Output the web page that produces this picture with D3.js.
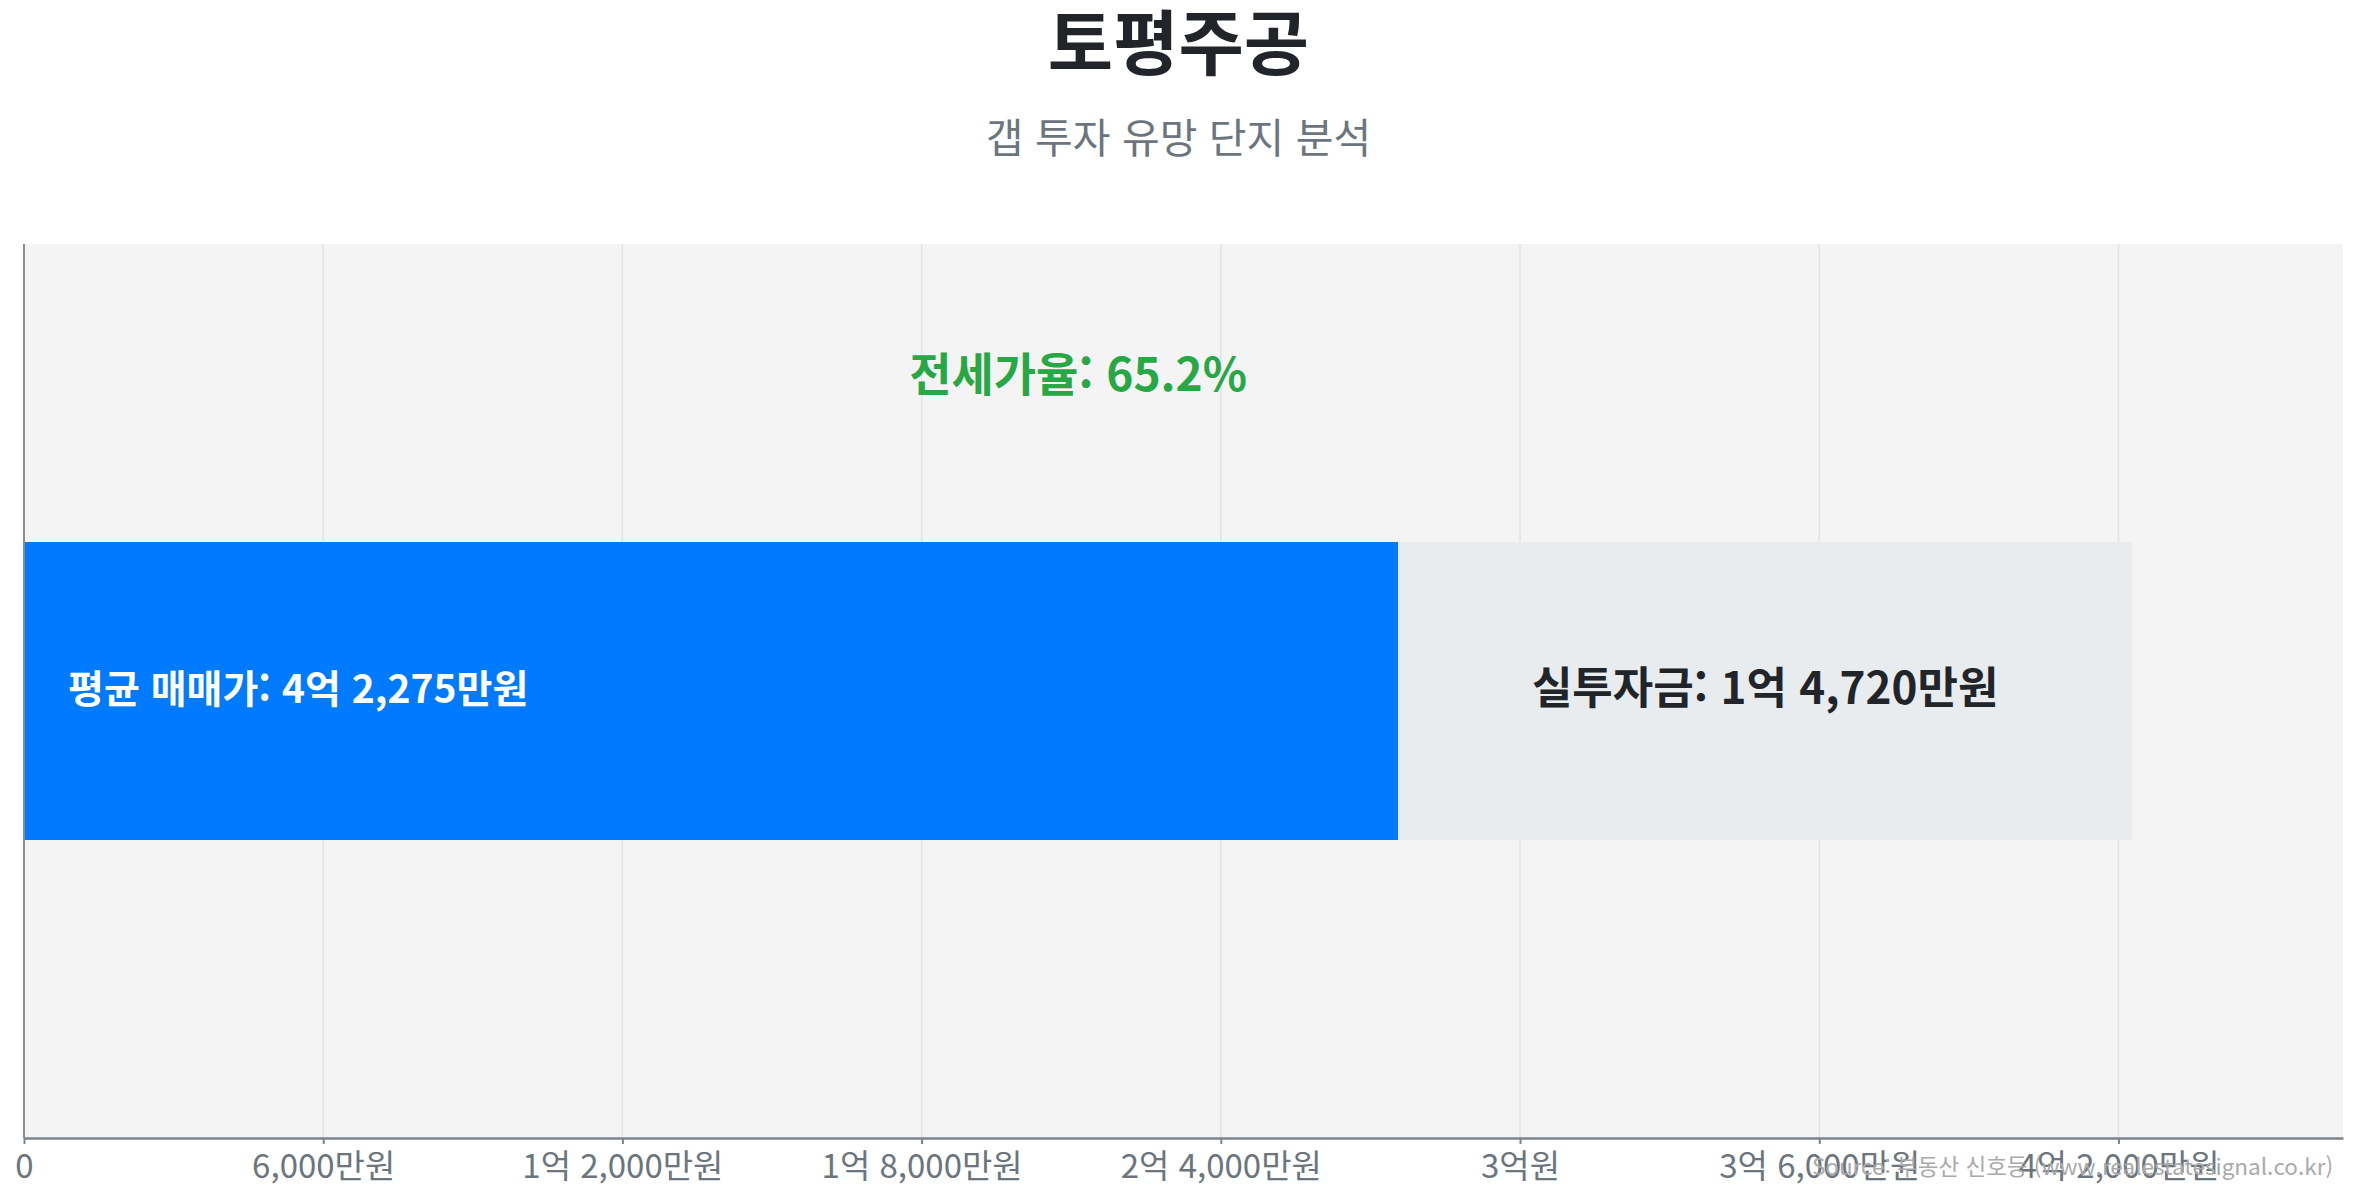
<!DOCTYPE html>
<html lang="ko">
<head>
<meta charset="utf-8">
<title>토평주공 갭 투자 분석</title>
<script src="https://cdn.jsdelivr.net/npm/d3@7"></script>
<style>
  body { margin: 0; background: #fff; }
  svg { display: block; font-family: "Noto Sans CJK KR", "Noto Sans", sans-serif; }
  .axis path, .axis line { stroke: #7d848b; }
  .axis text { fill: #6c757d; font-size: 33px; }
</style>
</head>
<body>
<svg id="chart"></svg>
<script>
// values in 만원
const complexNames = ['토평주공'];
const salePrices = [42275];
const jeonsePrices = [27555];
const gapAmounts = [14720];
const jeonseRatios = [65.2];
const tickValues = [0, 6000, 12000, 18000, 24000, 30000, 36000, 42000];
const tickLabels = ['0', '6,000만원', '1억 2,000만원', '1억 8,000만원', '2억 4,000만원', '3억원', '3억 6,000만원', '4억 2,000만원'];

// 만원 -> "4억 2,275만원"
function formatWon(v) {
  const eok = Math.floor(v / 10000);
  const man = v % 10000;
  if (eok && man) return `${eok}억 ${d3.format(',')(man)}만원`;
  if (eok) return `${eok}억원`;
  return `${d3.format(',')(man)}만원`;
}

class GapChart {
  constructor(_config) {
    this.config = {
      parentElement: _config.parentElement,
      containerWidth: _config.containerWidth || 2357,
      containerHeight: _config.containerHeight || 1200,
      margin: _config.margin || {top: 244, right: 14, bottom: 62, left: 24}
    };
    this.initVis();
  }

  initVis() {
    let vis = this;
    vis.width = vis.config.containerWidth - vis.config.margin.left - vis.config.margin.right;
    vis.height = vis.config.containerHeight - vis.config.margin.top - vis.config.margin.bottom;

    vis.svg = d3.select(vis.config.parentElement)
        .attr('width', vis.config.containerWidth)
        .attr('height', vis.config.containerHeight);

    // Titles
    vis.svg.append('text')
        .attr('x', vis.config.containerWidth / 2)
        .attr('y', 69)
        .attr('text-anchor', 'middle')
        .attr('font-size', 71)
        .attr('font-weight', 'bold')
        .attr('fill', '#212529')
        .text(complexNames[0]);

    vis.svg.append('text')
        .attr('x', vis.config.containerWidth / 2)
        .attr('y', 153)
        .attr('text-anchor', 'middle')
        .attr('font-size', 41)
        .attr('fill', '#6c757d')
        .text('갭 투자 유망 단지 분석');

    vis.chart = vis.svg.append('g')
        .attr('transform', `translate(${vis.config.margin.left},${vis.config.margin.top})`);

    vis.xScale = d3.scaleLinear()
        .domain([0, d3.max(salePrices) * 1.1])
        .range([0, vis.width]);

    vis.yScale = d3.scaleBand()
        .domain(complexNames)
        .range([0, vis.height])
        .padding(0.5);

    vis.chart.append('rect')
        .attr('width', vis.width)
        .attr('height', vis.height)
        .attr('fill', '#f4f4f4');

    // Vertical grid lines
    vis.chart.append('g')
        .selectAll('line')
        .data(tickValues.slice(1))
        .join('line')
        .attr('x1', d => vis.xScale(d))
        .attr('x2', d => vis.xScale(d))
        .attr('y1', 0)
        .attr('y2', vis.height)
        .attr('stroke', '#e4e4e4')
        .attr('stroke-width', 1.5);

    vis.xAxis = d3.axisBottom(vis.xScale)
        .tickValues(tickValues)
        .tickFormat((d, i) => tickLabels[i])
        .tickSize(6)
        .tickSizeOuter(0)
        .tickPadding(11);

    vis.renderVis();
  }

  renderVis() {
    let vis = this;
    const rows = complexNames.map((name, i) => ({
      name, sale: salePrices[i], jeonse: jeonsePrices[i], gap: gapAmounts[i], ratio: jeonseRatios[i]
    }));

    // 전세가 segment
    vis.chart.selectAll('.bar-jeonse')
        .data(rows)
        .join('rect')
        .attr('class', 'bar-jeonse')
        .attr('x', vis.xScale(0))
        .attr('y', d => vis.yScale(d.name))
        .attr('width', d => vis.xScale(d.jeonse) - vis.xScale(0))
        .attr('height', vis.yScale.bandwidth())
        .attr('fill', '#007bff');

    // 실투자금 segment
    vis.chart.selectAll('.bar-gap')
        .data(rows)
        .join('rect')
        .attr('class', 'bar-gap')
        .attr('x', d => vis.xScale(d.jeonse))
        .attr('y', d => vis.yScale(d.name))
        .attr('width', d => vis.xScale(d.jeonse + d.gap) - vis.xScale(d.jeonse))
        .attr('height', vis.yScale.bandwidth())
        .attr('fill', '#e9ecef');

    const mid = d => vis.yScale(d.name) + vis.yScale.bandwidth() / 2;

    vis.chart.selectAll('.label-sale')
        .data(rows)
        .join('text')
        .attr('class', 'label-sale')
        .attr('x', vis.xScale(0) + 44)
        .attr('y', mid)
        .attr('dy', '0.3em')
        .attr('font-size', 39)
        .attr('font-weight', 'bold')
        .attr('fill', '#fff')
        .text(d => `평균 매매가: ${formatWon(d.sale)}`);

    vis.chart.selectAll('.label-gap')
        .data(rows)
        .join('text')
        .attr('class', 'label-gap')
        .attr('x', d => (vis.xScale(d.jeonse) + vis.xScale(d.jeonse + d.gap)) / 2)
        .attr('y', mid)
        .attr('dy', '0.3em')
        .attr('text-anchor', 'middle')
        .attr('font-size', 44)
        .attr('font-weight', 'bold')
        .attr('fill', '#212529')
        .text(d => `실투자금: ${formatWon(d.gap)}`);

    vis.chart.selectAll('.label-ratio')
        .data(rows)
        .join('text')
        .attr('class', 'label-ratio')
        .attr('x', d => vis.xScale(d.sale) / 2)
        .attr('y', d => vis.yScale(d.name) - 151)
        .attr('text-anchor', 'middle')
        .attr('font-size', 46)
        .attr('font-weight', 'bold')
        .attr('fill', '#28a745')
        .text(d => `전세가율: ${d.ratio}%`);

    // Left axis line
    vis.chart.append('line')
        .attr('x1', 0).attr('x2', 0)
        .attr('y1', 0).attr('y2', vis.height)
        .attr('stroke', '#868e96')
        .attr('stroke-width', 2);

    vis.chart.append('g')
        .attr('class', 'axis x-axis')
        .attr('transform', `translate(0,${vis.height})`)
        .call(vis.xAxis)
        .attr('font-family', null)
        .attr('font-size', null)
        .call(g => g.select('.domain').attr('stroke-width', 2.5))
        .call(g => g.selectAll('.tick line').attr('stroke-width', 2));

    vis.svg.append('text')
        .attr('x', 2333)
        .attr('y', 1175)
        .attr('text-anchor', 'end')
        .attr('font-size', 22.5)
        .attr('fill', '#aaaaaa')
        .text('Source: 부동산 신호등 (www.realestatesignal.co.kr)');
  }
}

new GapChart({ parentElement: '#chart' });
</script>
</body>
</html>
